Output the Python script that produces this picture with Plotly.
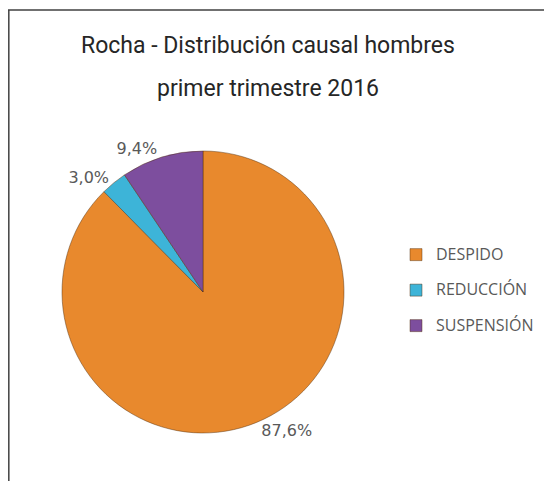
import plotly.graph_objects as go

# the page body adds an 8px margin, so the figure is 8px smaller and all
# screen positions are shifted back by 8px
OFF = 8
W, H = 552 - OFF, 481 - OFF

title_lines = ["Rocha - Distribución causal hombres", "primer trimestre 2016"]
categories = ["DESPIDO", "REDUCCIÓN", "SUSPENSIÓN"]
shares = [87.6, 3.0, 9.4]
colors = ["#E8892D", "#3DB4D8", "#7D4E9E"]


def px_x(x):
    return (x - OFF) / W


def px_y(y):
    return 1 - (y - OFF) / H


legend_names = [f"<span style='font-size:16px'>{c}</span><br> " for c in categories]

fig = go.Figure()
fig.add_trace(
    go.Pie(
        labels=legend_names,
        values=shares,
        text=[f"{v:.1f}%".replace(".", ",") for v in shares],
        textinfo="text",
        textposition="outside",
        textfont=dict(family="DejaVu Sans", size=16, color="#595959"),
        sort=False,
        direction="clockwise",
        rotation=0,
        marker=dict(colors=colors, line=dict(color="rgba(80,45,10,0.45)", width=1)),
        domain=dict(x=[px_x(62), px_x(344)], y=[px_y(433), px_y(151)]),
        hoverinfo="skip",
    )
)

annotations = []
for text, y in zip(title_lines, [45, 88]):
    annotations.append(
        dict(
            text=text, x=px_x(268), y=px_y(y), xref="paper", yref="paper",
            xanchor="center", yanchor="middle", showarrow=False,
            font=dict(family="Roboto", size=23, color="#262626"),
        )
    )

fig.update_layout(
    width=W,
    height=H,
    margin=dict(l=0, r=0, t=0, b=0),
    paper_bgcolor="white",
    plot_bgcolor="white",
    showlegend=True,
    legend=dict(
        x=px_x(396), y=px_y(240), xanchor="left", yanchor="top",
        valign="top",
        font=dict(family="Open Sans", size=12.5, color="#595959"),
        bgcolor="rgba(0,0,0,0)",
    ),
    annotations=annotations,
    shapes=[
        dict(type="line", xref="paper", yref="paper", x0=0, x1=1, y0=px_y(10), y1=px_y(10),
             line=dict(color="#404040", width=1.5)),
        dict(type="line", xref="paper", yref="paper", x0=0.0015, x1=0.0015, y0=0, y1=px_y(10),
             line=dict(color="#404040", width=1.5)),
    ],
)

fig.write_html("out.html")
